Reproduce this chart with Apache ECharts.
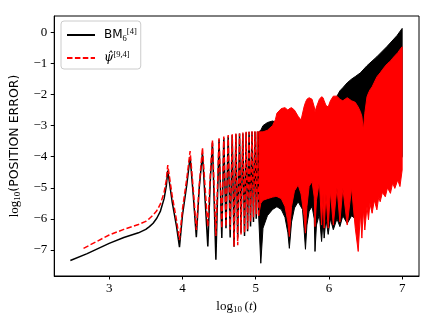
<!DOCTYPE html>
<html><head><meta charset="utf-8">
<script src="https://cdn.jsdelivr.net/npm/echarts@6/dist/echarts.min.js"></script>
<style>html,body{margin:0;padding:0;background:#fff}#c{width:436px;height:327px}</style>
</head><body><div id="c"></div>
<script>
// ---- data ----
const xTicks = [3, 4, 5, 6, 7];
const yTicks = [-7, -6, -5, -4, -3, -2, -1, 0];

// BM6^[4] (black, solid) : individual oscillations
const blackX = [2.47, 2.70, 3.00, 3.20, 3.40, 3.50, 3.55, 3.60, 3.65, 3.70, 3.75, 3.78, 3.80, 3.86, 3.92, 3.96, 4.00, 4.06, 4.105, 4.15, 4.19, 4.23, 4.274, 4.31, 4.347, 4.38, 4.41, 4.457, 4.50, 4.538, 4.565, 4.595, 4.625, 4.652, 4.68, 4.705, 4.73, 4.755, 4.78, 4.80, 4.825, 4.848, 4.87, 4.89, 4.91, 4.93, 4.95, 4.97, 4.99, 5.008, 5.025, 5.04];
const blackY = [-7.34, -7.12, -6.79, -6.6, -6.45, -6.34, -6.25, -6.14, -5.98, -5.75, -5.35, -4.95, -4.45, -5.45, -6.25, -6.91, -5.9, -4.9, -4.0, -5.3, -6.59, -5.0, -3.89, -5.4, -6.89, -4.8, -3.55, -7.32, -3.45, -6.62, -3.4, -6.3, -3.35, -6.6, -3.3, -6.9, -3.28, -6.6, -3.25, -6.45, -3.25, -6.55, -3.22, -6.4, -3.2, -6.25, -3.2, -6.1, -3.2, -6.0, -3.2, -5.85];
// BM6^[4] dense part: envelope of the oscillation
const blackBandX = [5.04, 5.07, 5.10, 5.16, 5.23, 5.29, 5.35, 5.40, 5.44, 5.46, 5.49, 5.53, 5.58, 5.64, 5.66, 5.68, 5.70, 5.73, 5.77, 5.80, 5.81, 5.83, 5.87, 5.90, 5.92, 5.935, 5.96, 5.99, 6.02, 6.06, 6.11, 6.15, 6.19, 6.25, 6.31, 6.36, 6.43, 6.52, 6.655, 6.79, 6.93, 7.00];
const blackBandHi = [-3.2, -3.15, -3.0, -2.9, -2.85, -2.9, -2.95, -2.95, -2.95, -2.95, -2.95, -2.95, -2.95, -2.9, -2.8, -2.75, -2.7, -2.7, -2.7, -2.7, -2.7, -2.65, -2.6, -2.5, -2.5, -2.5, -2.5, -2.5, -2.4, -2.2, -2.05, -1.88, -1.78, -1.62, -1.5, -1.42, -1.3, -1.07, -0.78, -0.46, -0.1, 0.13];
const blackBandLo = [-5.85, -7.43, -6.3, -5.9, -5.7, -5.61, -5.7, -5.95, -6.45, -6.95, -6.1, -5.65, -5.45, -5.7, -6.3, -6.98, -6.2, -5.75, -5.6, -6.0, -7.05, -6.2, -5.85, -6.73, -6.05, -6.62, -6.0, -6.5, -6.0, -6.35, -6.0, -6.25, -5.9, -6.15, -5.9, -6.0, -5.7, -5.3, -4.9, -4.6, -4.3, -4.0];

// psi-hat^[9,4] (red, dashed) : individual oscillations
const redX = [2.65, 3.00, 3.20, 3.40, 3.50, 3.55, 3.60, 3.65, 3.70, 3.75, 3.78, 3.80, 3.86, 3.92, 3.96, 4.00, 4.06, 4.105, 4.15, 4.19, 4.23, 4.274, 4.31, 4.347, 4.38, 4.41, 4.457, 4.50, 4.538, 4.565, 4.595, 4.625, 4.652, 4.68, 4.705, 4.73, 4.755, 4.78, 4.80, 4.825, 4.848, 4.87, 4.89, 4.91, 4.93, 4.95, 4.97, 4.99, 5.008, 5.025, 5.04];
const redY = [-6.95, -6.52, -6.34, -6.18, -6.08, -5.99, -5.88, -5.74, -5.52, -5.15, -4.75, -4.27, -5.25, -6.05, -6.68, -5.7, -4.7, -3.82, -5.1, -6.36, -4.9, -3.71, -5.0, -6.25, -4.6, -3.46, -6.55, -3.41, -6.3, -3.35, -6.25, -3.3, -6.35, -3.28, -6.9, -3.25, -6.85, -3.25, -6.5, -3.22, -6.45, -3.2, -6.35, -3.2, -6.1, -3.18, -5.95, -3.18, -5.85, -3.18, -5.9];
// psi-hat dense part: envelope of the oscillation
const redBandX = [5.04, 5.07, 5.10, 5.16, 5.23, 5.27, 5.29, 5.35, 5.40, 5.44, 5.46, 5.49, 5.53, 5.58, 5.62, 5.66, 5.68, 5.70, 5.73, 5.77, 5.80, 5.81, 5.83, 5.87, 5.90, 5.92, 5.935, 5.96, 5.99, 6.02, 6.06, 6.11, 6.15, 6.19, 6.25, 6.31, 6.36, 6.40, 6.43, 6.45, 6.47, 6.49, 6.52, 6.54, 6.56, 6.59, 6.62, 6.655, 6.68, 6.70, 6.73, 6.77, 6.80, 6.84, 6.87, 6.90, 6.94, 6.97, 7.00];
const redBandHi = [-3.2, -3.2, -3.2, -3.15, -3.0, -2.8, -2.6, -2.45, -2.42, -2.5, -2.45, -2.42, -2.5, -2.7, -2.82, -2.4, -2.25, -2.15, -2.1, -2.15, -2.4, -2.55, -2.4, -2.15, -2.07, -2.1, -2.2, -2.35, -2.4, -2.2, -2.05, -2.05, -2.15, -2.2, -2.1, -2.2, -2.25, -2.4, -2.55, -2.7, -3.15, -2.6, -2.07, -1.95, -1.85, -1.75, -1.6, -1.43, -1.35, -1.3, -1.2, -1.08, -1.0, -0.92, -0.83, -0.75, -0.65, -0.55, -0.46];
const redBandLo = [-5.9, -5.5, -5.4, -5.35, -5.3, -5.28, -5.28, -5.35, -5.6, -6.1, -6.57, -5.6, -5.1, -4.91, -5.2, -5.9, -6.46, -5.6, -4.95, -4.8, -5.3, -6.25, -5.4, -4.8, -6.2, -5.2, -6.3, -5.2, -6.3, -5.1, -6.2, -5.0, -6.1, -5.0, -6.2, -5.0, -6.3, -7.05, -5.8, -6.62, -5.7, -6.36, -5.6, -6.03, -5.5, -5.82, -5.4, -5.71, -5.3, -5.45, -5.15, -5.29, -5.0, -5.18, -4.85, -5.02, -4.75, -4.96, -4.43];

// ---- chart ----
const BLACK = '#000000', RED = '#ff0000';
const zip2 = (a, b) => a.map((v, i) => [v, b[i]]);
const zip3 = (a, b, c) => a.map((v, i) => [v, b[i], c[i]]);

function bandRenderer(color) {
  return function (params, api) {
    if (params.dataIndexInside !== 0) return null;
    const n = params.dataInsideLength;
    const pts = [];
    for (let j = 0; j < n; j++) pts.push(api.coord([api.value(0, j), api.value(2, j)]));
    for (let j = n - 1; j >= 0; j--) pts.push(api.coord([api.value(0, j), api.value(1, j)]));
    return { type: 'polygon', shape: { points: pts }, style: { fill: color, stroke: color, lineWidth: 1 } };
  };
}

const serif = 'Liberation Serif';
const tickFmt = v => (v < 0 ? '\u2212' + Math.abs(v) : String(v));

const chart = echarts.init(document.getElementById('c'), null, { renderer: 'canvas' });
chart.setOption({
  animation: false,
  backgroundColor: '#ffffff',
  grid: { left: 54, top: 16, right: 17, bottom: 51, show: true, borderColor: '#000', borderWidth: 1, backgroundColor: 'transparent' },
  xAxis: {
    type: 'value', min: 2.25, max: 7.23,
    axisLine: { show: true, onZero: false, lineStyle: { color: '#000', width: 1 } },
    axisTick: { show: true, length: 3.5, lineStyle: { color: '#000' }, customValues: xTicks },
    axisLabel: { color: '#000', fontFamily: serif, fontSize: 13, margin: 6, customValues: xTicks, formatter: tickFmt },
    splitLine: { show: false },
    name: '{a|log}{b|10}{a|\u2009(}{i|t}{a|)}',
    nameLocation: 'middle', nameGap: 20,
    nameTextStyle: {
      rich: {
        a: { fontFamily: serif, fontSize: 13, color: '#000', lineHeight: 16 },
        b: { fontFamily: serif, fontSize: 9, color: '#000', lineHeight: 9, verticalAlign: 'bottom' },
        i: { fontFamily: serif, fontSize: 13, fontStyle: 'italic', color: '#000', lineHeight: 16 }
      }
    }
  },
  yAxis: {
    type: 'value', min: -7.84, max: 0.53,
    axisLine: { show: true, onZero: false, lineStyle: { color: '#000', width: 1 } },
    axisTick: { show: true, length: 3.5, lineStyle: { color: '#000' }, customValues: yTicks },
    axisLabel: { color: '#000', fontFamily: serif, fontSize: 13, margin: 7, customValues: yTicks, formatter: tickFmt },
    splitLine: { show: false },
    name: '{a|log}{b|10}{c|(POSITION ERROR)}',
    nameLocation: 'middle', nameGap: 28, nameRotate: 90,
    nameTextStyle: {
      rich: {
        a: { fontFamily: serif, fontSize: 13, color: '#000', lineHeight: 16 },
        b: { fontFamily: serif, fontSize: 9, color: '#000', lineHeight: 9, verticalAlign: 'bottom' },
        c: { fontFamily: 'DejaVu Sans', fontSize: 12.5, color: '#000', lineHeight: 16 }
      }
    }
  },
  legend: {
    orient: 'vertical', left: 61, top: 21,
    itemWidth: 28, itemHeight: 14, itemGap: 7,
    padding: [6, 4, 5, 5],
    backgroundColor: 'rgba(255,255,255,0.8)', borderColor: '#cccccc', borderWidth: 1, borderRadius: 3,
    itemStyle: { opacity: 0 },
    data: [{ name: 'BM' }, { name: 'psi' }],
    formatter: function (name) {
      return name === 'BM' ? '{t|BM}{s|6}{p|[4]}' : '{g|\u03C8\u0302}{p|[9,4]}';
    },
    textStyle: {
      rich: {
        t: { fontFamily: 'DejaVu Sans', fontSize: 12, color: '#000', lineHeight: 16, padding: [0, 0, 0, 4] },
        s: { fontFamily: serif, fontSize: 8.5, color: '#000', lineHeight: 9, verticalAlign: 'bottom' },
        p: { fontFamily: serif, fontSize: 8.5, color: '#000', lineHeight: 9, verticalAlign: 'top' },
        g: { fontFamily: 'DejaVu Serif', fontSize: 12, fontStyle: 'italic', color: '#000', lineHeight: 16, padding: [0, 0, 0, 4] }
      }
    }
  },
  series: [
    { name: 'BM', type: 'line', data: zip2(blackX, blackY), symbol: 'none', lineStyle: { color: BLACK, width: 1.5 }, itemStyle: { color: BLACK } },
    { name: 'BM band', type: 'custom', data: zip3(blackBandX, blackBandLo, blackBandHi), encode: { x: 0, y: [1, 2] }, renderItem: bandRenderer(BLACK) },
    { name: 'psi', type: 'line', data: zip2(redX, redY), symbol: 'none', lineStyle: { color: RED, width: 1.5, type: [5.5, 2.4] }, itemStyle: { color: RED } },
    { name: 'psi band', type: 'custom', data: zip3(redBandX, redBandLo, redBandHi), encode: { x: 0, y: [1, 2] }, renderItem: bandRenderer(RED) }
  ]
});
</script>
</body></html>
